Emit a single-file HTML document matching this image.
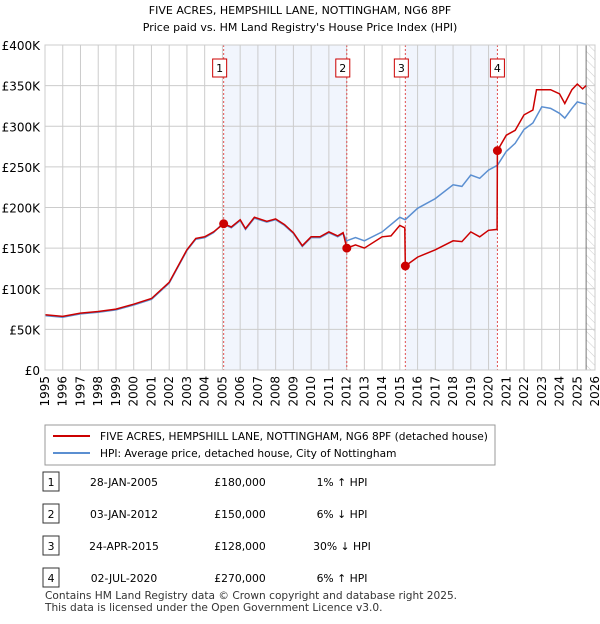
<!DOCTYPE html>
<html><head><meta charset="utf-8"><style>
body{margin:0;background:#fff;font-family:"DejaVu Sans","Liberation Sans",sans-serif;}
svg text{font-family:"DejaVu Sans","Liberation Sans",sans-serif;}
</style></head><body>
<svg id="c" width="600" height="620" xmlns="http://www.w3.org/2000/svg">
<defs><pattern id="hatch" width="6" height="6" patternUnits="userSpaceOnUse" patternTransform="rotate(-45)"><line x1="0" y1="0" x2="0" y2="6" stroke="#ccc" stroke-width="1"/></pattern></defs>
<text x="300" y="14" text-anchor="middle" font-size="11">FIVE ACRES, HEMPSHILL LANE, NOTTINGHAM, NG6 8PF</text>
<text x="300" y="31" text-anchor="middle" font-size="11">Price paid vs. HM Land Registry's House Price Index (HPI)</text>
<g id="plot"></g>
<g>
<rect x="45" y="425" width="450" height="40" fill="#fff" stroke="#999"/>
<line x1="53" y1="436" x2="90" y2="436" stroke="#cc0000" stroke-width="2"/>
<text x="100" y="440" font-size="10.6">FIVE ACRES, HEMPSHILL LANE, NOTTINGHAM, NG6 8PF (detached house)</text>
<line x1="53" y1="453" x2="90" y2="453" stroke="#5b8fd1" stroke-width="2"/>
<text x="100" y="457" font-size="10.6">HPI: Average price, detached house, City of Nottingham</text>
</g>
<g id="table" font-size="10.8"></g>
<text x="45" y="599" font-size="10.6" fill="#333">Contains HM Land Registry data © Crown copyright and database right 2025.</text>
<text x="45" y="611" font-size="10.6" fill="#333">This data is licensed under the Open Government Licence v3.0.</text>
</svg>
<script>
const hpiYears=[1995,1996,1997,1998,1999,2000,2001,2002,2003,2003.5,2004,2004.5,2005,2005.5,2006,2006.3,2006.8,2007.5,2008,2008.5,2009,2009.5,2010,2010.5,2011,2011.5,2011.8,2012,2012.5,2013,2014,2015,2015.3,2016,2017,2018,2018.5,2019,2019.5,2020,2020.5,2021,2021.5,2022,2022.5,2023,2023.5,2024,2024.3,2024.7,2025,2025.5];
const hpiValues=[67,65,69,71,74,80,87,107,147,161,163,169,180,175,184,173,187,182,185,178,168,152,163,163,169,164,168,159,163,159,170,188,185,199,211,228,226,240,236,246,252,269,279,296,304,324,322,316,310,322,330,327];
const redYears=[1995,1996,1997,1998,1999,2000,2001,2002,2003,2003.5,2004,2004.5,2005.07,2005.5,2006,2006.3,2006.8,2007.5,2008,2008.5,2009,2009.5,2010,2010.5,2011,2011.5,2011.8,2012.01,2012.5,2013,2014,2014.5,2015,2015.28,2015.31,2016,2017,2018,2018.5,2019,2019.5,2020,2020.48,2020.5,2021,2021.5,2022,2022.5,2022.7,2023,2023.5,2024,2024.3,2024.7,2025,2025.3,2025.5];
const redValues=[68,66,70,72,75,81,88,108,148,162,164,170,180,176,185,174,188,183,186,179,169,153,164,164,170,165,169,150,154,150,164,165,178,175,128,139,148,159,158,170,164,172,173,270,289,295,314,320,345,345,345,340,328,345,352,346,350];
const saleYears=[2005.07,2012.01,2015.31,2020.5];
const saleValues=[180,150,128,270];
const saleLabels=["1","2","3","4"];
const saleDates=["28-JAN-2005","03-JAN-2012","24-APR-2015","02-JUL-2020"];
const salePrices=["£180,000","£150,000","£128,000","£270,000"];
const saleHpi=["1% ↑ HPI","6% ↓ HPI","30% ↓ HPI","6% ↑ HPI"];
const yTicks=[0,50,100,150,200,250,300,350,400];
const yTickLabels=["£0","£50K","£100K","£150K","£200K","£250K","£300K","£350K","£400K"];
const xTicks=[];for(let y=1995;y<=2026;y++)xTicks.push(y);

const X0=45,X1=595,Y0=370,Y1=45;
const xs=y=>X0+(y-1995)/31*(X1-X0);
const ys=v=>Y0-v/400*(Y0-Y1);
const NS="http://www.w3.org/2000/svg";
const plot=document.getElementById('plot');
function mk(tag,attrs,parent){const e=document.createElementNS(NS,tag);for(const k in attrs)e.setAttribute(k,attrs[k]);(parent||plot).appendChild(e);return e;}
let s=mk('rect',{x:xs(saleYears[0]),y:Y1,width:xs(saleYears[1])-xs(saleYears[0]),height:Y0-Y1,fill:'#eef3fc',opacity:0.8});


s=mk('rect',{x:xs(saleYears[2]),y:Y1,width:xs(saleYears[3])-xs(saleYears[2]),height:Y0-Y1,fill:'#eef3fc',opacity:0.8});


s=mk('rect',{x:xs(2025.5),y:Y1,width:X1-xs(2025.5),height:Y0-Y1,fill:'url(#hatch)'});


yTicks.forEach((v,i)=>{
 const l=mk('line',{x1:X0,x2:X1,y1:ys(v),y2:ys(v),stroke:'#ccc'});
 
 
 const t=mk('text',{x:X0-5,y:ys(v)+5,'text-anchor':'end','font-size':12});
 
 
 t.textContent=yTickLabels[i];
});
xTicks.forEach(y=>{
 const l=mk('line',{x1:xs(y),x2:xs(y),y1:Y1,y2:Y0,stroke:'#ccc'});
 
 
 const t=mk('text',{x:0,y:0,'font-size':12,'text-anchor':'end',transform:`translate(${xs(y)+4},${Y0+6}) rotate(-90)`});
 
 
 t.textContent=y;
});
let bl=mk('line',{x1:xs(2025.5),x2:xs(2025.5),y1:Y1,y2:Y0,stroke:'#777'});


saleYears.forEach((y,i)=>{
 const l=mk('line',{x1:xs(y),x2:xs(y),y1:Y1,y2:Y0,stroke:'#e05050','stroke-dasharray':'2,2'});
 
 
});
const path=(xa,va)=>xa.map((y,i)=>(i?'L':'M')+xs(y).toFixed(1)+','+ys(va[i]).toFixed(1)).join('');
let p=mk('path',{d:path(hpiYears,hpiValues),fill:'none',stroke:'#5b8fd1','stroke-width':1.5});


p=mk('path',{d:path(redYears,redValues),fill:'none',stroke:'#cc0000','stroke-width':1.5});


saleYears.forEach((y,i)=>{
 const c=mk('circle',{cx:xs(y),cy:ys(saleValues[i]),r:4.5,fill:'#cc0000'});
 
 
 const bx=xs(y)-(i==3?7:11);
 const b=mk('rect',{x:bx,y:59,width:14,height:18,fill:'#fff',stroke:'#cc0000'});
 
 
 const t=mk('text',{x:bx+7,y:72,'text-anchor':'middle','font-size':11});
 
 
 t.textContent=saleLabels[i];
});
let ax=mk('rect',{x:X0,y:Y1,width:X1-X0,height:Y0-Y1,fill:'none',stroke:'#ccc'});


const tb=document.getElementById('table');
const rowY=[482,514,546,578];
saleLabels.forEach((lab,i)=>{
 const r=mk('rect',{x:43,y:rowY[i]-10,width:16,height:19,fill:'#fff',stroke:'#333'},tb);
 
 
 const cells=[[51,lab],[124,saleDates[i]],[240,salePrices[i]],[342,saleHpi[i]]];
 cells.forEach(c=>{
  const t=mk('text',{x:c[0],y:rowY[i]+4,'text-anchor':'middle'},tb);
  
  
  t.textContent=c[1];
 });
});
</script>
</body></html>
